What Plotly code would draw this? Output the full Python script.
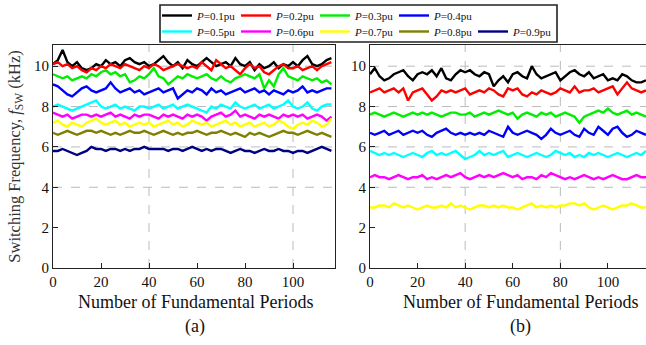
import plotly.graph_objects as go

# ---------------- data ----------------
PERIODS = list(range(0, 118, 2))  # 0..116

A_LABELS = ["0.1pu", "0.2pu", "0.3pu", "0.4pu", "0.5pu", "0.6pu", "0.7pu", "0.8pu", "0.9pu"]
COLORS = ["#000000", "#ff0000", "#00ee00", "#0000ff", "#00ffff", "#ff00ff", "#ffff00", "#808000", "#000080"]

A_P01 = [10.1, 10.3, 10.8, 10.2, 10.0, 10.2, 9.9, 9.8, 9.9, 10.1,
         10.0, 10.3, 10.1, 10.2, 10.0, 10.3, 10.4, 10.2, 10.1, 10.2,
         10.0, 10.1, 10.3, 10.5, 10.2, 10.0, 10.2, 9.9, 10.3, 10.1,
         10.0, 10.2, 10.4, 10.2, 10.0, 10.1, 10.2, 10.0, 10.4, 10.1,
         10.0, 10.2, 9.8, 10.1, 9.9, 10.0, 10.2, 9.9, 10.1, 10.0,
         10.2, 10.0, 10.3, 10.5, 10.1, 10.0, 10.1, 10.3, 10.4]
A_P02 = [10.1, 10.2, 10.0, 10.1, 9.9, 10.0, 9.8, 9.7, 9.9, 9.8,
         10.0, 9.9, 10.1, 10.0, 9.9, 10.1, 10.0, 9.9, 9.8, 10.0,
         9.9, 10.1, 10.0, 9.8, 9.9, 10.0, 10.1, 10.0, 9.9, 10.0,
         9.9, 10.2, 10.0, 9.8, 10.3, 10.1, 9.9, 10.0, 9.8, 9.6,
         9.9, 10.1, 9.9, 10.0, 9.7, 9.6, 9.8, 10.0, 10.1, 9.9,
         9.9, 10.0, 9.8, 9.9, 10.0, 9.8, 10.0, 10.1, 10.2]
A_P03 = [9.6, 9.5, 9.4, 9.5, 9.3, 9.4, 9.5, 9.4, 9.6, 9.5,
         9.7, 9.8, 9.6, 9.7, 9.5, 9.6, 9.2, 9.3, 9.5, 9.4,
         9.6, 9.9, 9.5, 9.4, 9.1, 9.3, 9.5, 9.4, 9.6, 9.5,
         9.4, 9.5, 9.6, 9.4, 9.3, 9.5, 9.3, 9.2, 9.4, 9.5,
         9.6, 9.5, 9.4, 9.6, 8.9, 9.3, 9.0, 9.6, 9.9, 9.5,
         9.4, 9.3, 9.5, 9.4, 9.3, 9.4, 9.2, 9.3, 9.1]
A_P04 = [9.1, 9.0, 8.8, 8.6, 8.5, 8.7, 8.9, 9.0, 8.8, 8.7,
         8.8, 8.9, 9.2, 8.9, 8.7, 8.8, 8.9, 8.7, 8.8, 8.6,
         8.7, 8.8, 8.9, 8.7, 8.8, 8.9, 8.4, 8.6, 8.8, 8.7,
         8.9, 8.8, 8.6, 8.9, 8.7, 8.8, 8.6, 8.7, 8.8, 8.9,
         8.7, 8.8, 8.9, 8.7, 8.8, 8.6, 8.8, 8.7, 8.6, 8.8,
         8.7, 8.8, 9.0, 8.7, 8.8, 8.7, 8.8, 8.9, 8.9]
A_P05 = [8.0, 8.1, 8.0, 7.9, 7.8, 7.9, 8.0, 8.1, 8.2, 8.3,
         8.0, 7.9, 8.0, 8.1, 7.9, 8.0, 7.9, 7.8, 8.0, 8.0,
         7.9, 8.0, 8.1, 7.9, 8.0, 8.1, 7.9, 8.0, 8.1, 8.0,
         7.9, 7.8, 7.7, 8.0, 7.9, 8.1, 8.0, 7.9, 8.2, 8.0,
         7.9, 8.0, 8.1, 7.9, 8.0, 8.1, 7.9, 8.0, 8.1, 8.3,
         8.0, 7.9, 8.0, 8.2, 7.9, 7.8, 8.0, 8.1, 8.1]
A_P06 = [7.7, 7.6, 7.5, 7.6, 7.4, 7.5, 7.6, 7.6, 7.5, 7.6,
         7.5, 7.6, 7.7, 7.5, 7.6, 7.5, 7.4, 7.6, 7.5, 7.6,
         7.6, 7.5, 7.4, 7.6, 7.5, 7.6, 7.5, 7.4, 7.6, 7.5,
         7.6, 7.5, 7.3, 7.5, 7.6, 7.7, 7.5, 7.6, 7.8, 7.5,
         7.6, 7.5, 7.4, 7.6, 7.5, 7.6, 7.5, 7.4, 7.6, 7.5,
         7.6, 7.5, 7.6, 7.4, 7.5, 7.6, 7.5, 7.3, 7.5]
A_P07 = [7.2, 7.3, 7.1, 7.0, 7.2, 7.1, 7.0, 7.2, 7.3, 7.4,
         7.2, 7.1, 7.2, 7.3, 7.1, 7.2, 7.0, 7.1, 7.2, 7.1,
         7.2, 7.0, 7.1, 7.2, 7.3, 7.1, 7.2, 7.0, 7.1, 7.3,
         7.2, 7.1, 7.2, 7.0, 7.1, 7.2, 7.3, 7.1, 7.2, 7.0,
         7.1, 7.2, 7.0, 7.1, 7.2, 7.0, 7.1, 7.3, 7.2, 7.0,
         6.9, 7.1, 7.2, 7.1, 7.3, 7.2, 7.0, 7.1, 7.4]
A_P08 = [6.7, 6.6, 6.7, 6.8, 6.7, 6.6, 6.7, 6.8, 6.8, 6.7,
         6.8, 6.7, 6.6, 6.7, 6.6, 6.7, 6.8, 6.7, 6.7, 6.8,
         6.7, 6.6, 6.7, 6.8, 6.7, 6.6, 6.7, 6.6, 6.7, 6.7,
         6.8, 6.7, 6.6, 6.7, 6.7, 6.8, 6.7, 6.6, 6.7, 6.6,
         6.5, 6.7, 6.6, 6.7, 6.6, 6.5, 6.6, 6.7, 6.8, 6.7,
         6.7, 6.6, 6.7, 6.8, 6.7, 6.6, 6.7, 6.6, 6.5]
A_P09 = [5.8, 5.8, 5.9, 5.8, 5.7, 5.6, 5.7, 5.8, 6.0, 5.9,
         5.9, 5.8, 5.9, 5.9, 5.8, 5.9, 5.8, 5.9, 5.9, 6.0,
         5.9, 5.9, 5.9, 5.9, 5.8, 5.9, 5.9, 5.8, 5.9, 6.0,
         5.9, 5.8, 5.9, 5.8, 5.9, 5.9, 5.8, 5.7, 5.8, 5.9,
         5.8, 5.8, 5.7, 5.8, 5.9, 5.8, 5.8, 5.9, 5.8, 5.8,
         5.7, 5.8, 5.8, 5.7, 5.8, 5.9, 6.0, 5.9, 5.8]

B_P01 = [9.6, 9.9, 9.5, 9.3, 9.4, 9.6, 9.7, 9.8, 9.5, 9.3,
         9.6, 9.7, 9.6, 9.8, 9.5, 9.9, 9.4, 9.3, 9.6, 9.8,
         9.7, 9.8, 9.6, 9.5, 9.7, 9.6, 9.0, 9.3, 9.5, 9.2,
         9.6, 9.7, 9.5, 9.4, 10.0, 9.6, 9.4, 9.5, 9.6, 9.7,
         9.3, 9.5, 9.7, 9.8, 9.6, 9.5, 9.7, 9.4, 9.5, 9.6,
         9.3, 9.4, 9.3, 9.6, 9.5, 9.3, 9.2, 9.2, 9.3]
B_P02 = [8.7, 8.8, 8.9, 8.7, 8.8, 8.9, 8.7, 8.9, 8.3, 8.7,
         8.8, 8.9, 8.6, 8.3, 8.5, 8.8, 8.7, 8.8, 8.7, 8.8,
         8.9, 8.6, 8.7, 8.8, 8.7, 8.9, 8.8, 8.6, 8.5, 8.9,
         8.8, 8.9, 8.6, 8.5, 8.7, 8.6, 8.8, 8.7, 8.6, 8.7,
         8.9, 8.8, 8.7, 9.0, 8.7, 8.8, 8.8, 8.9, 8.7, 8.8,
         8.9, 9.0, 8.6, 8.9, 9.2, 8.9, 8.8, 8.7, 8.8]
B_P03 = [7.6, 7.7, 7.6, 7.5, 7.6, 7.7, 7.6, 7.5, 7.6, 7.7,
         7.6, 7.7, 7.6, 7.7, 7.6, 7.5, 7.6, 7.7, 7.7, 7.6,
         7.6, 7.7, 7.5, 7.6, 7.7, 7.6, 7.7, 7.8, 7.7, 7.6,
         7.7, 7.4, 7.6, 7.7, 7.6, 7.5, 7.7, 7.6, 7.7, 7.5,
         7.6, 7.7, 7.6, 7.5, 7.2, 7.5, 7.6, 7.7, 7.8, 7.7,
         7.9, 7.7, 7.6, 7.7, 7.8, 7.6, 7.7, 7.6, 7.5]
B_P04 = [6.7, 6.6, 6.7, 6.8, 6.6, 6.7, 6.8, 6.6, 6.7, 6.8,
         6.7, 6.8, 6.6, 6.5, 6.7, 6.8, 6.9, 6.7, 6.6, 6.7,
         6.6, 6.7, 6.6, 6.7, 6.6, 6.8, 6.7, 6.6, 6.5, 7.0,
         6.7, 6.6, 6.7, 6.8, 6.7, 6.6, 6.4, 6.6, 6.9, 6.7,
         6.6, 6.7, 6.8, 6.6, 6.5, 6.9, 6.7, 6.6, 7.0, 6.8,
         6.6, 6.9, 7.0, 6.7, 6.5, 6.6, 6.8, 6.7, 6.6]
B_P05 = [5.8, 5.7, 5.6, 5.7, 5.6, 5.7, 5.6, 5.5, 5.6, 5.7,
         5.6, 5.5, 5.7, 5.8, 5.6, 5.7, 5.6, 5.7, 5.8, 5.6,
         5.4, 5.5, 5.6, 5.8, 5.6, 5.7, 5.6, 5.7, 5.8, 5.5,
         5.6, 5.7, 5.6, 5.5, 5.6, 5.7, 5.6, 5.5, 5.6, 5.8,
         5.7, 5.6, 5.7, 5.5, 5.6, 5.5, 5.7, 5.6, 5.7, 5.6,
         5.5, 5.6, 5.7, 5.6, 5.5, 5.6, 5.7, 5.6, 5.8]
B_P06 = [4.5, 4.6, 4.5, 4.5, 4.4, 4.5, 4.6, 4.5, 4.4, 4.5,
         4.5, 4.6, 4.4, 4.5, 4.4, 4.5, 4.6, 4.5, 4.6, 4.7,
         4.5, 4.4, 4.5, 4.6, 4.5, 4.6, 4.5, 4.6, 4.7, 4.6,
         4.5, 4.6, 4.4, 4.5, 4.5, 4.4, 4.6, 4.5, 4.7, 4.6,
         4.5, 4.4, 4.5, 4.4, 4.5, 4.6, 4.5, 4.4, 4.5, 4.4,
         4.5, 4.6, 4.5, 4.4, 4.4, 4.5, 4.6, 4.5, 4.5]
B_P07 = [3.0, 3.0, 3.1, 3.1, 3.0, 3.2, 3.1, 3.0, 3.1, 3.0,
         2.9, 3.0, 3.1, 3.0, 3.0, 3.1, 3.0, 3.2, 3.0, 3.1,
         3.0, 2.9, 3.0, 3.1, 3.1, 3.0, 3.1, 3.0, 3.1, 3.0,
         3.0, 2.9, 3.0, 3.1, 3.2, 3.0, 3.1, 3.0, 3.1, 3.0,
         3.1, 3.1, 3.2, 3.2, 3.1, 3.2, 3.0, 2.9, 3.0, 3.1,
         3.0, 2.9, 3.0, 3.1, 3.1, 3.2, 3.1, 3.0, 3.0]

SERIES_A = [A_P01, A_P02, A_P03, A_P04, A_P05, A_P06, A_P07, A_P08, A_P09]
SERIES_B = [B_P01, B_P02, B_P03, B_P04, B_P05, B_P06, B_P07]

X_TICKS = [0, 20, 40, 60, 80, 100]
Y_TICKS = [0, 2, 4, 6, 8, 10]
GRID_X_A = [40, 100]
GRID_X_B = [40, 80]
GRID_Y = [4, 6, 8, 10]

# ---------------- figure ----------------
W, H = 646, 345
FONT = "Liberation Serif, Times New Roman, serif"
fig = go.Figure()

for i, (lab, ys) in enumerate(zip(A_LABELS, SERIES_A)):
    fig.add_trace(go.Scatter(
        x=PERIODS, y=ys, mode="lines", name="<i>P</i>=" + lab,
        line=dict(color=COLORS[i], width=2.4), xaxis="x", yaxis="y",
        legend="legend" if i < 4 else "legend2"))
for i, ys in enumerate(SERIES_B):
    fig.add_trace(go.Scatter(
        x=PERIODS, y=ys, mode="lines", showlegend=False,
        line=dict(color=COLORS[i], width=2.4), xaxis="x2", yaxis="y2"))

axis_common = dict(showline=True, linecolor="#222", linewidth=1.2, mirror=True,
                   ticks="inside", ticklen=5, tickcolor="#222", showgrid=False,
                   zeroline=False, tickfont=dict(family=FONT, size=15, color="#111"))
y_dom = [1 - 268 / H, 1 - 45 / H]
leg_common = dict(orientation="h", xanchor="left", yanchor="top", bgcolor="rgba(0,0,0,0)",
                  font=dict(family=FONT, size=11, color="#111"), itemwidth=30,
                  entrywidth=34, entrywidthmode="pixels",
                  tracegroupgap=0, borderwidth=0)
fig.update_layout(
    width=W, height=H, margin=dict(l=0, r=0, t=0, b=0, autoexpand=False),
    paper_bgcolor="white", plot_bgcolor="white",
    font=dict(family=FONT, color="#111"),
    xaxis=dict(domain=[53 / W, 335 / W], range=[0, 117.5], tickvals=X_TICKS, **axis_common),
    yaxis=dict(domain=y_dom, range=[0, 11.05], tickvals=Y_TICKS, **axis_common,
               title=dict(text="Switching Frequency, <i>f</i><sub>SW</sub> (kHz)",
                          font=dict(family=FONT, size=16.5, color="#333"), standoff=9)),
    xaxis2=dict(domain=[370 / W, 1.0], range=[0, 116], tickvals=X_TICKS, anchor="y2", **axis_common),
    yaxis2=dict(domain=y_dom, range=[0, 11.05], tickvals=Y_TICKS, anchor="x2", **axis_common),
    legend=dict(x=157 / W, y=1 - 1 / H, **leg_common),
    legend2=dict(x=157 / W, y=1 - 17 / H, **leg_common),
)

shapes = []
for gx in GRID_X_A:
    shapes.append(dict(type="line", xref="x", yref="y domain", x0=gx, x1=gx, y0=0, y1=1,
                       line=dict(color="#bbbbbb", width=1, dash="dash"), layer="below"))
for gx in GRID_X_B:
    shapes.append(dict(type="line", xref="x2", yref="y2 domain", x0=gx, x1=gx, y0=0, y1=1,
                       line=dict(color="#bbbbbb", width=1, dash="dash"), layer="below"))
for gy in GRID_Y:
    for xr, yr in (("x", "y"), ("x2", "y2")):
        shapes.append(dict(type="line", xref=xr + " domain", yref=yr, x0=0, x1=1, y0=gy, y1=gy,
                           line=dict(color="#bbbbbb", width=1, dash="dash"), layer="below"))
shapes.append(dict(type="rect", xref="paper", yref="paper",
                   x0=160 / W, x1=557 / W, y0=1 - 42 / H, y1=1 - 5 / H,
                   line=dict(color="#222", width=1.6), fillcolor="rgba(0,0,0,0)"))
fig.update_layout(shapes=shapes)

ann = []
for cx, lab in ((195 / W, "(a)"), (520 / W, "(b)")):
    ann.append(dict(text="Number of Fundamental Periods", x=cx, y=1 - 302 / H, xref="paper",
                    yref="paper", xanchor="center", yanchor="middle", showarrow=False,
                    font=dict(family=FONT, size=18, color="#111")))
    ann.append(dict(text=lab, x=cx, y=1 - 326 / H, xref="paper", yref="paper",
                    xanchor="center", yanchor="middle", showarrow=False,
                    font=dict(family=FONT, size=18, color="#111")))
fig.update_layout(annotations=ann)

fig.write_html("out.html")
